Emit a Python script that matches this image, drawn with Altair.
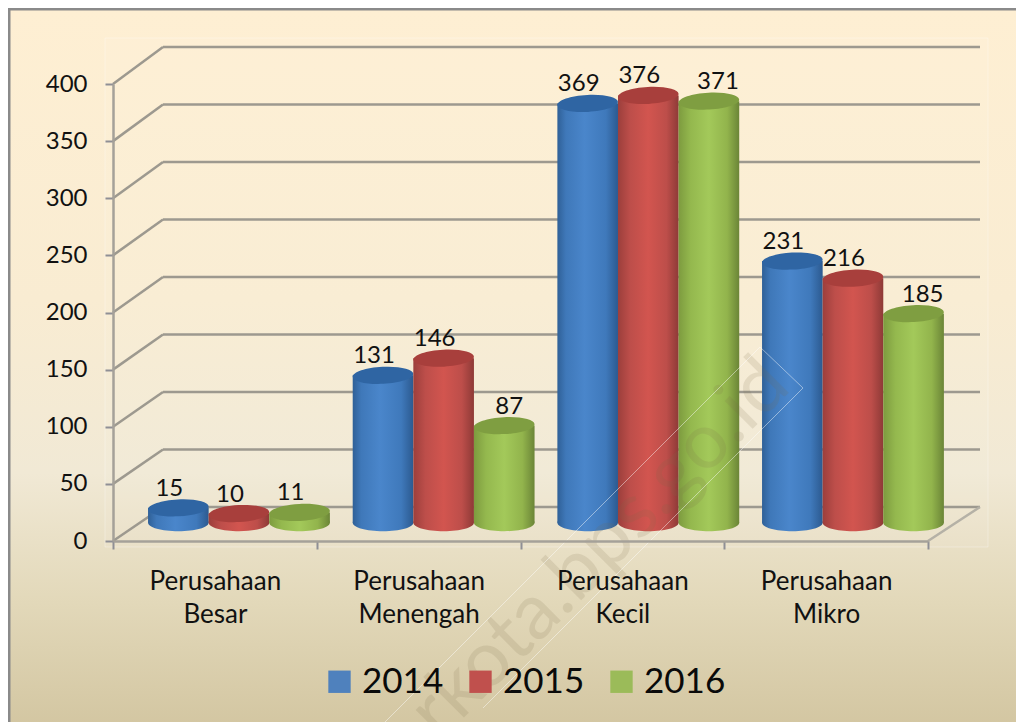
import json
import altair as alt
import pandas as pd

categories = [["Perusahaan", "Besar"], ["Perusahaan", "Menengah"], ["Perusahaan", "Kecil"], ["Perusahaan", "Mikro"]]
years = ["2014", "2015", "2016"]
values_2014 = [15, 131, 369, 231]
values_2015 = [10, 146, 376, 216]
values_2016 = [11, 87, 371, 185]
y_ticks = [0, 50, 100, 150, 200, 250, 300, 350, 400]
series_values = [values_2014, values_2015, values_2016]

FONT = "Lato"
swatch = ["#4f81bd", "#c0504d", "#9bbb59"]
side_stops = [
    [("#2f6097", 0), ("#3f78b9", .14), ("#4a86cb", .45), ("#3f79bb", .8), ("#2c5a90", 1)],
    [("#9c3f3c", 0), ("#bd4e4a", .2), ("#d2554f", .5), ("#bd4e4a", .8), ("#8e3a37", 1)],
    [("#7d9b3f", 0), ("#94b84e", .2), ("#a3c95a", .5), ("#92b44c", .8), ("#6b8537", 1)],
]
top_colors = ["#2f65a3", "#a83f3c", "#7f9e41"]


def grad(stops, vertical=False):
    return alt.LinearGradient(
        gradient="linear", x1=0, x2=0 if vertical else 1, y1=0, y2=1 if vertical else 0,
        stops=[alt.GradientStop(color=c, offset=o) for c, o in stops],
    )


ELLIPSE = "M-1,0C-1,-.155,-.552,-.28,0,-.28C.552,-.28,1,-.155,1,0C1,.155,.552,.28,0,.28C-.552,.28,-1,.155,-1,0Z"
BAR_W = 0.2975
BASE = 16.0  # the bars stand halfway into the floor's depth
TOP_SHIFT = 14.0
DEPTH_X = 50 / 203.75
x_scale = alt.Scale(domain=[0, 4], nice=False, zero=False)
y_scale = alt.Scale(domain=[0, 400], nice=False, zero=False)
X = lambda f: alt.X(f, type="quantitative", scale=x_scale, title=None)
Y = lambda f: alt.Y(f, type="quantitative", scale=y_scale, title=None)

rows = []
for s, vals in enumerate(series_values):
    for i, v in enumerate(vals):
        left = 0.172 + i * 1.0045 + s * BAR_W
        nudge = -9
        if s == 2 and v > 50:
            nudge = 9 if v > 100 else 5
        rows.append(dict(series=years[s], s=s, value=v, left=left, right=left + BAR_W,
                         mid=left + BAR_W / 2,
                         lab=left + BAR_W / 2 + nudge / 203.75,
                         top=v + TOP_SHIFT, base=BASE))
bars = pd.DataFrame(rows)

back = lambda v: 29.76 + 1.0066 * v
grid = pd.DataFrame([dict(v=v, by=back(v)) for v in y_ticks])
grid["x0"], grid["x1"], grid["x2"] = 0.0, DEPTH_X, 4 + 52 / 203.75

layers = []
# page background with its frame, and the faint lighter panel behind the plot
layers.append(alt.Chart(pd.DataFrame({"a": [0]})).mark_rect(
    fill=grad([("#feefd3", 0), ("#f9ecd2", .4), ("#f1e9d5", .64), ("#e2d8b9", .82), ("#d2c5a0", 1)], True),
    stroke="#8a8a8a", strokeWidth=3,
).encode(x=alt.value(-104), x2=alt.value(930), y=alt.value(-75), y2=alt.value(650)))
layers.append(alt.Chart(pd.DataFrame({"a": [0]})).mark_rect(
    fill="#ffffff", fillOpacity=.06, stroke="#ffffff", strokeOpacity=.3, strokeWidth=1,
).encode(x=alt.value(-8), x2=alt.value(875), y=alt.value(-46), y2=alt.value(463)))

# axes
axis_color = "#8f8f95"
layers.append(alt.Chart(grid).mark_point(opacity=0).encode(
    x=alt.X("x0:Q", scale=x_scale, title=None, axis=alt.Axis(
        values=[0, .5, 1, 1.5, 2, 2.5, 3, 3.5, 4], grid=False, zindex=1,
        domainColor="#a5a199", domainWidth=2.5, tickColor=axis_color, tickWidth=2, tickSize=8,
        tickOpacity={"condition": {"test": "datum.value % 1 == 0", "value": 1}, "value": 0},
        labelExpr="datum.value % 1 == 0 ? '' : " + json.dumps(categories) + "[floor(datum.value)]",
        labelFont=FONT, labelFontSize=26, labelColor="#111111", labelLineHeight=33,
        labelPadding=19, labelFlush=False, labelOverlap=False, labelAngle=0,
    )),
    y=alt.Y("v:Q", scale=y_scale, title=None, axis=alt.Axis(
        values=y_ticks, grid=False, zindex=1, domainColor="#a5a199", domainWidth=2.5,
        tickColor=axis_color, tickWidth=2, tickSize=8,
        labelFont=FONT, labelFontSize=24, labelColor="#111111", labelPadding=18,
    )),
))

# walls: diagonal from the axis to the back, then along the back wall
wall = dict(color="#9d998f", strokeWidth=2.5)
layers.append(alt.Chart(grid).mark_rule(**wall).encode(x=X("x0"), x2="x1:Q", y=Y("v"), y2="by:Q"))
layers.append(alt.Chart(grid).mark_rule(**wall).encode(x=X("x1"), x2="x2:Q", y=Y("by"), y2="by:Q"))
floor = pd.DataFrame({"x": [4.0], "x2": [4 + 52 / 203.75], "y": [0.0], "y2": [back(0)]})
layers.append(alt.Chart(floor).mark_rule(color="#b5b1a6", strokeWidth=2.5).encode(
    x=X("x"), x2="x2:Q", y=Y("y"), y2="y2:Q"))

# cylinders
size = 60.6 ** 2
for s, year in enumerate(years):
    d = bars[bars.series == year]
    g = grad(side_stops[s])
    layers.append(alt.Chart(d).mark_point(filled=True, shape=ELLIPSE, size=size, opacity=1, fill=g, strokeWidth=0)
                  .encode(x=X("mid"), y=Y("base")))
    layers.append(alt.Chart(d).mark_rect(fill=g).encode(x=X("left"), x2="right:Q", y=Y("top"), y2="base:Q"))
    layers.append(alt.Chart(d).mark_point(filled=True, shape=ELLIPSE, size=size, opacity=1, fill=top_colors[s],
                                          strokeWidth=0, angle=357).encode(x=X("mid"), y=Y("top")))

# value labels
layers.append(alt.Chart(bars).mark_text(font=FONT, fontSize=24, color="#111111", baseline="alphabetic", dy=-28)
              .encode(x=X("lab"), y=Y("value"), text="value:Q"))

# legend
layers.append(alt.Chart(pd.DataFrame({"series": years, "x": [1, 2, 3], "y": [1, 1, 1]})).mark_square(opacity=0).encode(
    x=X("x"), y=Y("y"),
    color=alt.Color("series:N", scale=alt.Scale(domain=years, range=swatch), legend=alt.Legend(
        orient="none", legendX=209, legendY=580, direction="horizontal", title=None, columns=3,
        symbolType="square", symbolSize=500, symbolOpacity=1, symbolStrokeWidth=0,
        labelFont=FONT, labelFontSize=35, labelColor="#0a0a0a", labelOffset=5, columnPadding=19,
        rowPadding=0, padding=0, labelLimit=0,
    )),
))

# watermark
layers.append(alt.Chart(pd.DataFrame({"t": ["rkota.bps.go.id"]})).mark_text(
    font=FONT, fontSize=78, angle=315, color="#7a6a48", opacity=.14,
).encode(x=alt.value(487), y=alt.value(465), text="t:N"))
wm = pd.DataFrame({"a": [0]})
for (x0, y0, x1, y1) in [(647, 263, 267, 643), (690, 304, 370, 624), (647, 263, 690, 304)]:
    layers.append(alt.Chart(wm).mark_rule(color="#ffffff", strokeWidth=1, opacity=.45).encode(
        x=alt.value(x0), y=alt.value(y0), x2=alt.value(x1), y2=alt.value(y1)))

chart = alt.layer(*layers).properties(
    width=815, height=457,
    padding={"left": 105, "top": 76, "right": 88, "bottom": 181},
    autosize=alt.AutoSizeParams(type="none"),
    background="#ffffff",
).configure_view(stroke=None)

chart.save("out.html", embed_options={"renderer": "svg", "actions": False})
